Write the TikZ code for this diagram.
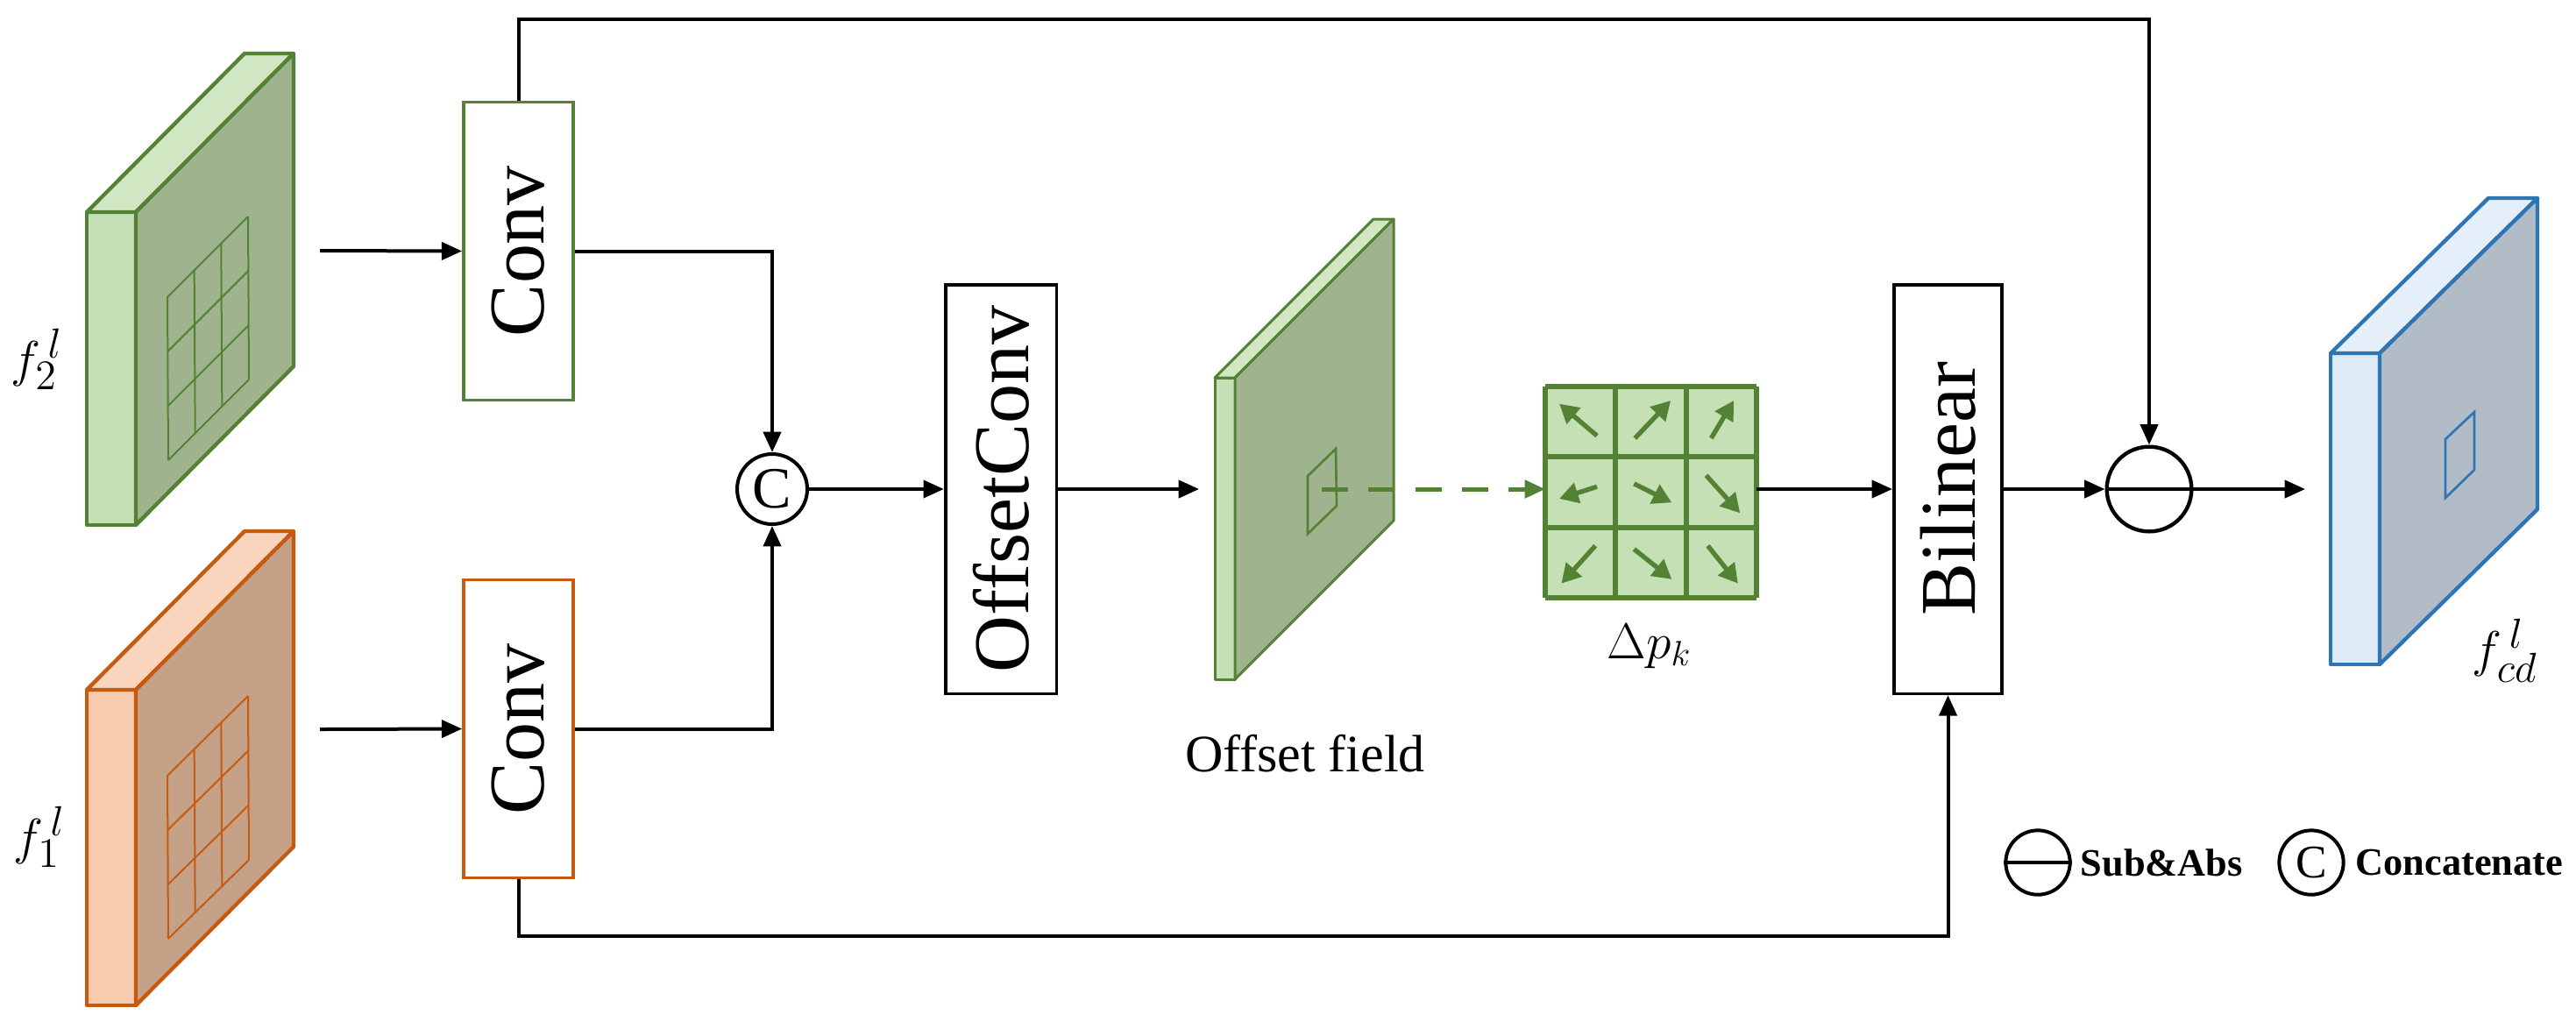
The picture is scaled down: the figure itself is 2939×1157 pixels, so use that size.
\documentclass[tikz,border=0pt]{standalone}
\usepackage{fontspec}
\setmainfont{Liberation Serif}
\usetikzlibrary{arrows.meta,calc}
\definecolor{gS}{HTML}{548235}\definecolor{gF}{HTML}{C5E0B4}\definecolor{gB}{HTML}{9FB48E}
\definecolor{oS}{HTML}{C55A11}\definecolor{oF}{HTML}{F8CBAD}\definecolor{oB}{HTML}{C5A287}
\definecolor{bS}{HTML}{2E75B6}\definecolor{bF}{HTML}{DEEBF7}\definecolor{bB}{HTML}{B1BCC6}
\newcommand\fmap[9]{%
 \filldraw[#7,line join=round,fill=#8] (#1,#2) rectangle ++(#3,#4);
 \filldraw[#7,line join=round,fill=#8!80!white] (#1,#2) -- ++(#5,#6) -- ++(#3,0) -- ++(-#5,-#6) -- cycle;
 \filldraw[#7,line join=round,fill=#9] (#1+#3,#2) -- ++(#5,#6) -- ++(0,#4) -- ++(-#5,-#6) -- cycle;}
\newcommand\skewgrid[5]{% TL TR BL BR color
 \coordinate (TL) at #1;\coordinate (TR) at #2;\coordinate (BL) at #3;\coordinate (BR) at #4;
 \foreach \i in {0,1,2,3}{
  \draw[#5,line width=0.6pt] ($(TL)!\i/3!(TR)$) -- ($(BL)!\i/3!(BR)$);
  \draw[#5,line width=0.6pt] ($(TL)!\i/3!(BL)$) -- ($(TR)!\i/3!(BR)$);}}
\begin{document}
\begin{tikzpicture}[x=0.3pt,y=-0.3pt,
 box/.style={draw,line width=1.1pt,fill=white,inner sep=0pt},
 lbl/.style={rotate=90,font=\fontsize{27}{30}\selectfont},
 ln/.style={line width=1.2pt},
 arr/.style={ln,-{Triangle[length=7pt,width=6pt]}},
 garr/.style={gS,line width=1.6pt,-{Triangle[length=6.5pt,width=7pt]}}]
\useasboundingbox (0,0) rectangle (2939,1157);
% feature maps
\fmap{99}{242}{56}{357}{180}{-181}{gS,line width=1.3pt}{gF}{gB}
\skewgrid{(191,339)}{(283,247)}{(192,525)}{(284,433)}{gS}
\fmap{99}{787}{56}{360}{180}{-181}{oS,line width=1.3pt}{oF}{oB}
\skewgrid{(191,885)}{(283,794)}{(192,1071)}{(284,981)}{oS}
\node[font=\fontsize{19}{22}\selectfont] at (42,410) {$f_2^{\,l}$};
\node[font=\fontsize{19}{22}\selectfont] at (45,955) {$f_1^{\,l}$};
% convs
\node[box,draw=gS,minimum width=37.5pt,minimum height=102pt] (c2) at (591.5,286.5) {};
\node[lbl] at (c2) {Conv};
\node[box,draw=oS,minimum width=37.5pt,minimum height=102pt] (c1) at (591.5,831.5) {};
\node[lbl] at (c1) {Conv};
\coordinate (i2) at (365,286);\coordinate (i1) at (365,832);
\draw[arr] (i2) -- (c2.west);
\draw[arr] (i1) -- (c1.west);
% concat
\node[circle,draw,line width=1.2pt,minimum size=24pt,inner sep=0pt,font=\fontsize{20}{20}\selectfont] (cat) at (881,558) {C};
\draw[arr] (c2.east) -| (cat.north);
\draw[arr] (c1.east) -| (cat.south);
% offsetconv
\node[box,minimum width=38pt,minimum height=140pt] (oc) at (1142,558) {};
\node[lbl] at (oc) {OffsetConv};
\draw[arr] (cat.east) -- (oc.west);
% offset field
\coordinate (of) at (1368,558);
\draw[arr] (oc.east) -- (of);
\fmap{1386}{431}{23}{344}{181}{-181}{gS,line width=0.9pt}{gF}{gB}
\draw[gS,line width=0.8pt] (1492,543) -- (1524,512) -- (1525,577) -- (1492,609) -- cycle;
\node[font=\fontsize{18}{20}\selectfont] at (1489,860) {Offset field};
\coordinate (ds) at (1508,558);
% delta grid
\begin{scope}[shift={(1763,441)}]
\fill[gF] (0,0) rectangle (241,241);
\foreach \i in {0,1,2,3}{\draw[gS,line width=1.8pt] (\i*80.33,0) -- (\i*80.33,241); \draw[gS,line width=1.8pt] (0,\i*80.33) -- (241,\i*80.33);}
\coordinate (dgw) at (0,117);
\coordinate (dge) at (241,117);
\foreach \c/\r/\dx/\dy in {0/0/-1/-0.85, 1/0/0.95/-1, 2/0/0.6/-1, 0/1/-1/0.32, 1/1/1/0.5, 2/1/0.9/1, 0/2/-0.9/1, 1/2/1/0.8, 2/2/0.8/1}
  \draw[garr] (\c*80.33+40-19*\dx,\r*80.33+40-19*\dy) -- (\c*80.33+40+24*\dx,\r*80.33+40+24*\dy);
\end{scope}
\draw[gS,line width=1.5pt,dash pattern=on 9pt off 7pt,-{Triangle[length=7pt,width=6pt]}] (ds) -- (dgw);
\node[font=\fontsize{18}{20}\selectfont] at (1882,737) {$\Delta p_k$};
% bilinear
\node[box,minimum width=37pt,minimum height=140pt] (bl) at (2222.5,558) {};
\node[lbl] at (bl) {Bilinear};
\draw[arr] (dge) -- (bl.west);
% sub
\node[circle,draw,line width=1.3pt,minimum size=29pt,inner sep=0pt] (sub) at (2452,558) {};
\draw[line width=1.3pt] (sub.west) -- (sub.east);
\draw[arr] (bl.east) -- (sub.west);
\draw[arr] (c2.north) |- (1600,22) -| (sub.north);
\draw[arr] (c1.south) |- (1600,1068) -| (bl.south);
% output
\coordinate (om) at (2630,558);
\draw[arr] (sub.east) -- (om);
\fmap{2659}{403}{56}{355}{180}{-177}{bS,line width=1.3pt}{bF}{bB}
\draw[bS,line width=0.8pt] (2790,501) -- (2823,470) -- (2823,536) -- (2790,568) -- cycle;
\node[font=\fontsize{19}{22}\selectfont] at (2858,742) {$f_{cd}^{\,l}$};
% legend
\node[circle,draw,line width=1.2pt,minimum size=22pt,inner sep=0pt] (lsub) at (2325,984) {};
\draw[line width=1.2pt] (lsub.west) -- (lsub.east);
\node[anchor=west,font=\fontsize{13.3}{15}\selectfont\bfseries,inner sep=0pt] at (2373,984) {Sub\&Abs};
\node[circle,draw,line width=1.2pt,minimum size=22pt,inner sep=0pt,font=\fontsize{16}{16}\selectfont] (lcat) at (2637,984) {C};
\node[anchor=west,font=\fontsize{13.3}{15}\selectfont\bfseries,inner sep=0pt] at (2687,984) {Concatenate};
\end{tikzpicture}
\end{document}
